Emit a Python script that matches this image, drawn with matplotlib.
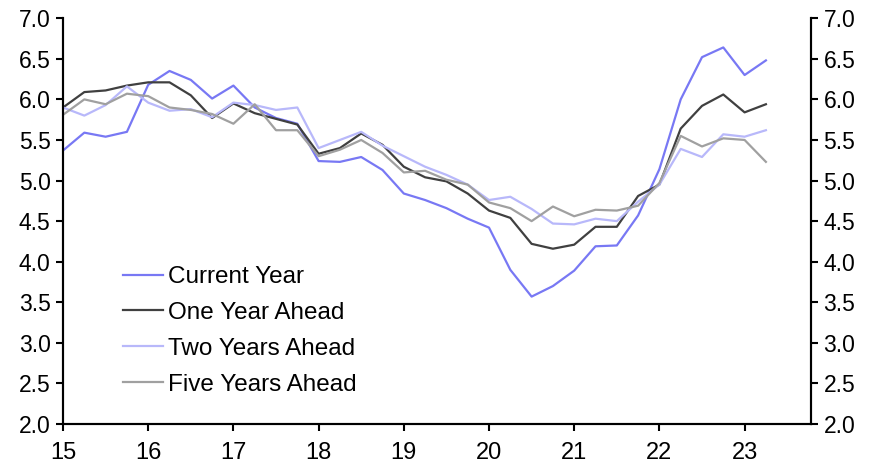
import matplotlib.pyplot as plt
import numpy as np

plt.rcParams['font.family'] = ['Liberation Sans', 'DejaVu Sans']

# quarterly, 2015Q1 .. 2023Q2
quarters = np.arange(34) / 4 + 15

current_year = [5.37, 5.59, 5.54, 5.60, 6.18, 6.35, 6.24, 6.01, 6.17, 5.90,
                5.77, 5.70, 5.24, 5.23, 5.29, 5.13, 4.84, 4.76, 4.66, 4.53,
                4.42, 3.90, 3.57, 3.70, 3.89, 4.19, 4.20, 4.57, 5.14, 6.00,
                6.52, 6.64, 6.30, 6.48]
one_year = [5.90, 6.09, 6.11, 6.17, 6.21, 6.21, 6.05, 5.77, 5.95, 5.83,
            5.76, 5.69, 5.33, 5.40, 5.58, 5.44, 5.17, 5.04, 4.99, 4.84,
            4.63, 4.54, 4.22, 4.16, 4.21, 4.43, 4.43, 4.81, 4.95, 5.64,
            5.92, 6.06, 5.84, 5.94]
two_years = [5.90, 5.80, 5.93, 6.16, 5.96, 5.86, 5.88, 5.78, 5.96, 5.93,
             5.87, 5.90, 5.40, 5.50, 5.60, 5.43, 5.30, 5.17, 5.07, 4.95,
             4.76, 4.80, 4.65, 4.47, 4.46, 4.53, 4.50, 4.74, 4.95, 5.39,
             5.29, 5.57, 5.54, 5.62]
five_years = [5.81, 6.00, 5.94, 6.07, 6.04, 5.90, 5.87, 5.82, 5.70, 5.94,
              5.62, 5.62, 5.30, 5.38, 5.50, 5.34, 5.10, 5.12, 5.01, 4.95,
              4.73, 4.66, 4.50, 4.68, 4.56, 4.64, 4.63, 4.69, 4.97, 5.55,
              5.42, 5.52, 5.50, 5.23]

series = [
    ("Current Year", current_year, "#7878f4"),
    ("One Year Ahead", one_year, "#404040"),
    ("Two Years Ahead", two_years, "#b8b8fa"),
    ("Five Years Ahead", five_years, "#a0a0a0"),
]

fig = plt.figure(figsize=(8.79, 4.67), dpi=100)
ax = fig.add_axes([0.0717, 0.092, 0.851, 0.869])

for label, values, color in series:
    ax.plot(quarters, values, color=color, lw=1.6, label=label)

ax.set_xlim(15, 23.78)
ax.set_ylim(2, 7)
ax.set_xticks(range(15, 24))
ax.set_yticks(np.arange(2, 7.01, 0.5))
ax.yaxis.set_major_formatter(plt.FormatStrFormatter('%.1f'))

ax2 = ax.twinx()
ax2.set_ylim(2, 7)
ax2.set_yticks(np.arange(2, 7.01, 0.5))
ax2.yaxis.set_major_formatter(plt.FormatStrFormatter('%.1f'))

for a in (ax, ax2):
    a.spines['top'].set_visible(False)
    for s in a.spines.values():
        s.set_linewidth(1.5)
    a.tick_params(width=1.5, length=5, labelsize=16.5, direction='out', pad=4)
ax.tick_params(axis='x', labelsize=17, pad=8)

ax.legend(loc='lower left', bbox_to_anchor=(0.08, 0.07), frameon=False,
          fontsize=17.5, handlelength=1.65, handletextpad=0.2, labelspacing=0.57,
          borderaxespad=0, borderpad=0)

fig.savefig("out.png", dpi=100)
